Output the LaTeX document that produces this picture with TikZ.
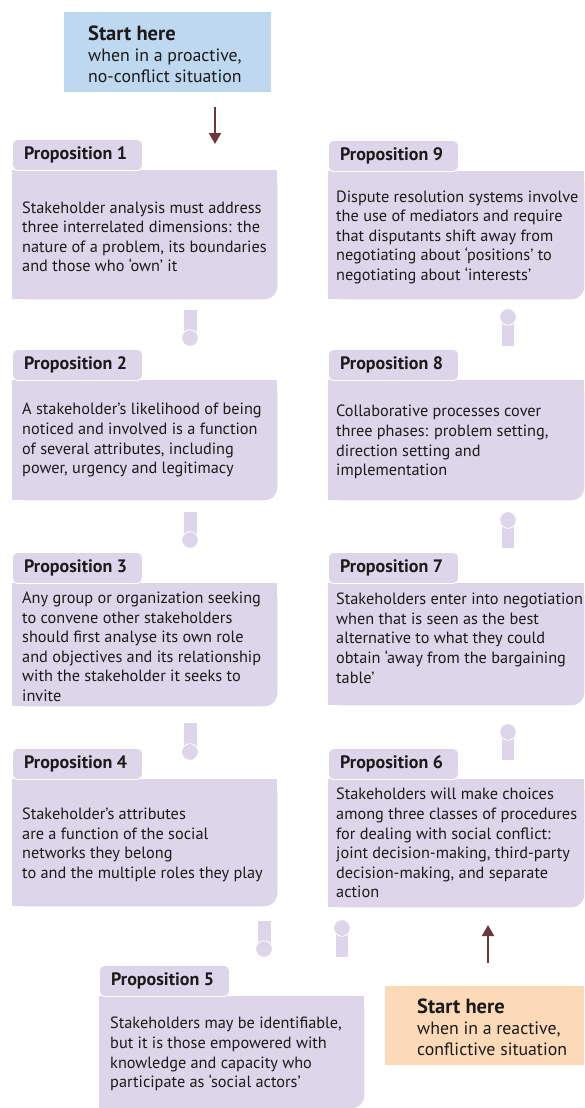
\documentclass[tikz,border=0pt]{standalone}
\usepackage{fontspec}
\setmainfont{PT Sans}
\usetikzlibrary{arrows.meta,backgrounds}
\definecolor{lav}{HTML}{DDD5E9}
\definecolor{bluebg}{HTML}{BDD8EF}
\definecolor{orangebg}{HTML}{FCDAB8}
\definecolor{arrowc}{HTML}{6E373C}
\definecolor{txt}{HTML}{1C1A1B}
\tikzset{
  body/.style={rectangle, inner sep=0pt, anchor=north west},
  bodytext/.style={anchor=west, align=left, inner sep=0pt, text=txt,
    font=\fontsize{16.3}{19.6}\selectfont},
  tab/.style={rectangle, rounded corners=5pt, fill=lav, draw=white, line width=0.9pt,
    anchor=north west, minimum width=130pt, minimum height=31pt, inner sep=0pt},
  tabtext/.style={anchor=west, inner sep=0pt, text=txt, font=\fontsize{18}{20}\selectfont\bfseries},
  startbox/.style={rectangle, inner sep=0pt, anchor=north west},
  starttext/.style={anchor=west, align=left, inner sep=0pt, text=txt,
    font=\fontsize{17.8}{21}\selectfont},
  flow/.style={draw=arrowc, line width=2.2pt, -{Triangle[width=12pt,length=11pt]}},
  conrect/.style={fill=lav},
  condot/.style={fill=lav, draw=white, line width=0.8pt},
}
\begin{document}
\begin{tikzpicture}[x=1pt,y=-1pt]
\useasboundingbox (0,0) rectangle (584,1108);

% start boxes
\node[startbox, fill=bluebg, minimum width=207pt, minimum height=80pt] (s1) at (64,12) {};
\node[starttext] (s1t) at ([xshift=24pt,yshift=-2pt]s1.west) {{\bfseries\fontsize{20.5}{21}\selectfont Start here}\\when in a proactive,\\no-conflict situation};
\node[startbox, fill=orangebg, minimum width=199pt, minimum height=79pt] (s2) at (385,986) {};
\node[starttext] (s2t) at ([xshift=32pt,yshift=-2pt]s2.west) {{\bfseries\fontsize{20.5}{21}\selectfont Start here}\\when in a reactive,\\conflictive situation};

% proposition bodies
\node[body, minimum width=265pt, minimum height=129pt] (p1) at (12,170) {};
\node[body, minimum width=265pt, minimum height=120pt] (p2) at (12,380) {};
\node[body, minimum width=265pt, minimum height=123pt] (p3) at (12,583) {};
\node[body, minimum width=265pt, minimum height=127pt] (p4) at (12,779) {};
\node[body, minimum width=265pt, minimum height=112pt] (p5) at (99,996) {};
\node[body, minimum width=256pt, minimum height=128pt] (p6) at (328,779) {};
\node[body, minimum width=256pt, minimum height=122pt] (p7) at (328,583) {};
\node[body, minimum width=256pt, minimum height=120pt] (p8) at (328,380) {};
\node[body, minimum width=256pt, minimum height=128pt] (p9) at (328,171) {};

\begin{scope}[on background layer]
\foreach \n in {p1,p2,p3,p4,p5,p6,p7,p8,p9}{
  \fill[lav, rounded corners=13pt] (\n.north west) rectangle (\n.south east);
  \fill[lav] (\n.north west) rectangle ([xshift=-14pt]\n.south east);
  \fill[lav] (\n.north west) rectangle ([yshift=14pt]\n.south east);
}
\end{scope}

% tabs
\node[tab] (t1) at (12,139) {};
\node[tab] (t2) at (12,349) {};
\node[tab] (t3) at (12,552) {};
\node[tab] (t4) at (12,748) {};
\node[tab] (t5) at (99,965) {};
\node[tab] (t6) at (328,748) {};
\node[tab] (t7) at (328,552) {};
\node[tab] (t8) at (328,349) {};
\node[tab] (t9) at (328,140) {};
\node[tabtext] (t1l) at ([xshift=12pt]t1.west) {Proposition 1};
\node[tabtext] (t2l) at ([xshift=12pt]t2.west) {Proposition 2};
\node[tabtext] (t3l) at ([xshift=12pt]t3.west) {Proposition 3};
\node[tabtext] (t4l) at ([xshift=12pt]t4.west) {Proposition 4};
\node[tabtext] (t5l) at ([xshift=12pt]t5.west) {Proposition 5};
\node[tabtext] (t6l) at ([xshift=12pt]t6.west) {Proposition 6};
\node[tabtext] (t7l) at ([xshift=12pt]t7.west) {Proposition 7};
\node[tabtext] (t8l) at ([xshift=12pt]t8.west) {Proposition 8};
\node[tabtext] (t9l) at ([xshift=12pt]t9.west) {Proposition 9};

% body texts
\node[bodytext] (p1t) at ([xshift=10pt,yshift=-2pt]p1.west) {Stakeholder analysis must address\\three interrelated dimensions: the\\nature of a problem, its boundaries\\and those who ‘own’ it};
\node[bodytext] (p2t) at ([xshift=10pt]p2.west) {A stakeholder’s likelihood of being\\noticed and involved is a function\\of several attributes, including\\power, urgency and legitimacy};
\node[bodytext] (p3t) at ([xshift=10pt,yshift=-2pt]p3.west) {Any group or organization seeking\\to convene other stakeholders\\should first analyse its own role\\and objectives and its relationship\\with the stakeholder it seeks to\\invite};
\node[bodytext] (p4t) at ([xshift=10pt,yshift=-2pt]p4.west) {Stakeholder’s attributes\\are a function of the social\\networks they belong\\to and the multiple roles they play};
\node[bodytext] (p5t) at ([xshift=11pt,yshift=-2pt]p5.west) {Stakeholders may be identifiable,\\but it is those empowered with\\knowledge and capacity who\\participate as ‘social actors’};
\node[bodytext] (p6t) at ([xshift=8pt]p6.west) {Stakeholders will make choices\\among three classes of procedures\\for dealing with social conflict:\\joint decision-making, third-party\\decision-making, and separate\\action};
\node[bodytext] (p7t) at ([xshift=8pt,yshift=6pt]p7.west) {Stakeholders enter into negotiation\\when that is seen as the best\\alternative to what they could\\obtain ‘away from the bargaining\\table’};
\node[bodytext] (p8t) at ([xshift=8pt,yshift=-2pt]p8.west) {Collaborative processes cover\\three phases: problem setting,\\direction setting and\\implementation};
\node[bodytext] (p9t) at ([xshift=8pt,yshift=-2pt]p9.west) {Dispute resolution systems involve\\the use of mediators and require\\that disputants shift away from\\negotiating about ‘positions’ to\\negotiating about ‘interests’};

% connectors: left column (bar above dot)
\fill[conrect] (183.5,310) rectangle (196.5,335);
\filldraw[condot] (190,338) circle (8.3);
\fill[conrect] (183.5,512) rectangle (196.5,537);
\filldraw[condot] (190,540) circle (8.3);
\fill[conrect] (183.5,723) rectangle (196.5,748);
\filldraw[condot] (190,752) circle (8.3);
\fill[conrect] (257.5,921) rectangle (270.5,946);
\filldraw[condot] (264,949) circle (8.3);
% connectors: right column (dot above bar)
\fill[conrect] (502,321) rectangle (514,346);
\filldraw[condot] (508,317) circle (8.3);
\fill[conrect] (502,524) rectangle (514,548);
\filldraw[condot] (508,520) circle (8.3);
\fill[conrect] (502,736) rectangle (514,760);
\filldraw[condot] (508,732) circle (8.3);
\fill[conrect] (336,932) rectangle (348,957);
\filldraw[condot] (342,928) circle (8.3);

% arrows
\coordinate (a1s) at (215,107);
\coordinate (a1e) at (215,144);
\draw[flow] (a1s) -- (a1e);
\coordinate (a2s) at (488,963);
\coordinate (a2e) at (488,925);
\draw[flow] (a2s) -- (a2e);
\end{tikzpicture}
\end{document}
